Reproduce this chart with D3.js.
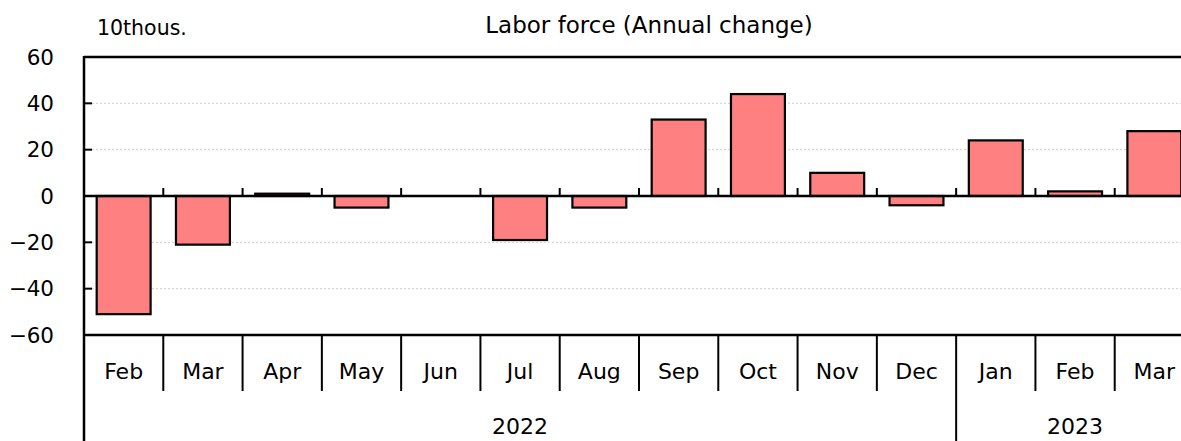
<!DOCTYPE html>
<html><head><meta charset="utf-8">
<script src="https://cdn.jsdelivr.net/npm/d3@7"></script>
<style>
html,body{margin:0;padding:0;background:#fff;}
svg{display:block;font-family:"DejaVu Sans",Verdana,sans-serif;}
</style></head>
<body>
<svg id="chart" width="1181" height="441"></svg>
<script>
const months = ["Feb","Mar","Apr","May","Jun","Jul","Aug","Sep","Oct","Nov","Dec","Jan","Feb","Mar"];
const years  = ["2022","2022","2022","2022","2022","2022","2022","2022","2022","2022","2022","2023","2023","2023"];
const values = [-51,-21,1,-5,0,-19,-5,33,44,10,-4,24,2,28];
const yTicks = [-60,-40,-20,0,20,40,60];
const title = "Labor force (Annual change)";
const unitLabel = "10thous.";

(function(){
const svg = d3.select("#chart");
const pL = 84, pR = 1194, pT = 57, pB = 335;
const keys = months.map((m,i)=>years[i]+"-"+m+"-"+i);

const x = d3.scaleBand().domain(keys).range([pL,pR]).paddingInner(0.32).paddingOuter(0.16);
const y = d3.scaleLinear().domain([-60,60]).range([pB,pT]);
const step = x.step();
const boundary = k => x(k) - step*0.16;

// gridlines
svg.append("g").selectAll("line").data(yTicks.filter(t=>t!==0 && Math.abs(t)!==60)).join("line")
  .attr("x1",pL).attr("x2",pR).attr("y1",d=>y(d)).attr("y2",d=>y(d))
  .attr("stroke","#d0d0d0").attr("stroke-width",1).attr("stroke-dasharray","2,2");

// bars
svg.append("g").selectAll("rect").data(values).join("rect")
  .attr("x",(d,i)=>x(keys[i]))
  .attr("width",x.bandwidth())
  .attr("y",d=>y(Math.max(0,d)))
  .attr("height",d=>Math.abs(y(d)-y(0)))
  .attr("fill","#ff8080").attr("stroke","#000").attr("stroke-width",2.2);

// zero line
svg.append("line").attr("x1",pL).attr("x2",pR).attr("y1",y(0)).attr("y2",y(0))
  .attr("stroke","#000").attr("stroke-width",2.5);
// zero ticks at category boundaries
svg.append("g").selectAll("line").data(keys.slice(1)).join("line")
  .attr("x1",d=>boundary(d)).attr("x2",d=>boundary(d))
  .attr("y1",y(0)).attr("y2",y(0)-8).attr("stroke","#000").attr("stroke-width",2);

// frame
svg.append("line").attr("x1",pL).attr("x2",pR).attr("y1",pT).attr("y2",pT).attr("stroke","#000").attr("stroke-width",2.5);
svg.append("line").attr("x1",pL).attr("x2",pR).attr("y1",pB).attr("y2",pB).attr("stroke","#000").attr("stroke-width",2.5);
svg.append("line").attr("x1",pL).attr("x2",pL).attr("y1",pT-1).attr("y2",441).attr("stroke","#000").attr("stroke-width",2.5);

// y ticks
const yAxis = svg.append("g");
yAxis.selectAll("line").data(yTicks.filter(t=>Math.abs(t)!==60)).join("line")
  .attr("x1",pL).attr("x2",pL+8).attr("y1",d=>y(d)).attr("y2",d=>y(d))
  .attr("stroke","#000").attr("stroke-width",2);
const fmt = d3.format("d");
yAxis.selectAll("text").data(yTicks).join("text")
  .attr("x",54).attr("y",d=>y(d)+7.5).attr("text-anchor","end")
  .attr("font-size",21.5).attr("fill","#000").text(d=>fmt(d));

// month separators
svg.append("g").selectAll("line").data(keys.slice(1)).join("line")
  .attr("x1",d=>boundary(d)).attr("x2",d=>boundary(d))
  .attr("y1",pB).attr("y2",(d,i)=>years[i+1]!==years[i]?441:391)
  .attr("stroke","#000").attr("stroke-width",2);

// month labels
svg.append("g").selectAll("text").data(months).join("text")
  .attr("x",(d,i)=>x(keys[i])+x.bandwidth()/2).attr("y",379)
  .attr("text-anchor","middle").attr("font-size",22).attr("fill","#000").text(d=>d);

// year labels
const yearGroups = d3.groups(keys.map((k,i)=>({k,yr:years[i]})), d=>d.yr);
svg.append("g").selectAll("text").data(yearGroups).join("text")
  .attr("x",g=>{const a=boundary(g[1][0].k); const b=boundary(g[1][g[1].length-1].k)+step; return (a+b)/2;})
  .attr("y",434).attr("text-anchor","middle").attr("font-size",22).attr("fill","#000").text(g=>g[0]);

// titles
svg.append("text").attr("x",649).attr("y",33).attr("text-anchor","middle").attr("font-size",23).attr("fill","#000").text(title);
svg.append("text").attr("x",97).attr("y",35).attr("font-size",20.5).attr("fill","#000").text(unitLabel);
})();
</script>
</body></html>
